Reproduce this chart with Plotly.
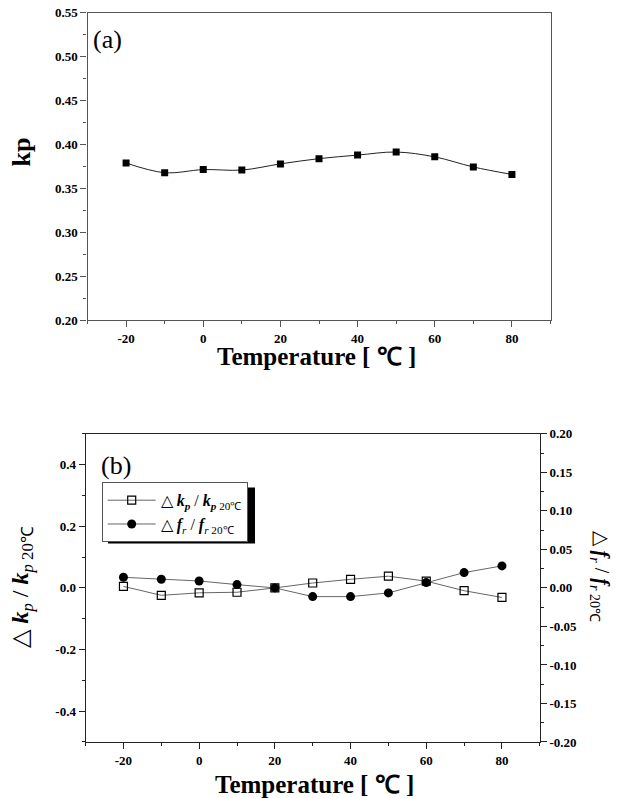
import plotly.graph_objects as go

# ---- data ----
temps = [-20, -10, 0, 10, 20, 30, 40, 50, 60, 70, 80]
kp = [0.379, 0.368, 0.3715, 0.371, 0.378, 0.384, 0.388, 0.3915, 0.386, 0.3745, 0.366]
dkp = [0.005, -0.024, -0.016, -0.014, 0.0, 0.016, 0.028, 0.038, 0.022, -0.009, -0.031]
dfr = [0.0138, 0.0112, 0.009, 0.0043, 0.0, -0.0113, -0.0113, -0.0065, 0.0069, 0.0199, 0.0286]

# tick values / labels (hyphen minus as in the reference)
x_ticks = [-20, 0, 20, 40, 60, 80]
x_labels = ["-20", "0", "20", "40", "60", "80"]
kp_ticks = [0.20, 0.25, 0.30, 0.35, 0.40, 0.45, 0.50, 0.55]
kp_labels = ["0.20", "0.25", "0.30", "0.35", "0.40", "0.45", "0.50", "0.55"]
left_ticks = [-0.4, -0.2, 0.0, 0.2, 0.4]
left_labels = ["-0.4", "-0.2", "0.0", "0.2", "0.4"]
right_ticks = [-0.20, -0.15, -0.10, -0.05, 0.00, 0.05, 0.10, 0.15, 0.20]
right_labels = ["-0.20", "-0.15", "-0.10", "-0.05", "0.00", "0.05", "0.10", "0.15", "0.20"]

W, H = 623, 798
SERIF = "Liberation Serif"
# observed vertical mapping of the capture: out = 0.981 * y + 7.5
VS, VO = 0.981, 7.5

def px_x(v):
    return v / W

def px_y(v):
    v = (v - VO) / VS
    return min(1.0, max(0.0, 1 - v / H))

fig = go.Figure()

fig.add_trace(go.Scatter(
    x=temps, y=kp, mode="lines+markers", showlegend=False,
    line=dict(color="#222", width=1, shape="spline", smoothing=1.0),
    marker=dict(symbol="square", size=7, color="black"),
    xaxis="x", yaxis="y"))

fig.add_trace(go.Scatter(
    x=temps, y=dkp, mode="lines+markers",
    name="△ <b><i>k</i></b><sub><b><i>p</i></b></sub> / <b><i>k</i></b><sub><b><i>p</i></b> 20℃</sub>",
    line=dict(color="#666", width=1),
    marker=dict(symbol="square-open", size=8, color="black", line=dict(width=1.2)),
    xaxis="x2", yaxis="y2"))

fig.add_trace(go.Scatter(
    x=temps, y=dfr, mode="lines+markers",
    name="△ <b><i>f</i></b><sub><i>r</i></sub> / <b><i>f</i></b><sub><i>r</i> 20℃</sub>",
    line=dict(color="#666", width=1),
    marker=dict(symbol="circle", size=9, color="black"),
    xaxis="x2", yaxis="y3"))

tickfont = dict(family=SERIF, size=13, color="black", weight="bold")
common = dict(showgrid=False, zeroline=False, showline=True, ticks="outside",
              tickfont=tickfont, linewidth=1.2, tickmode="array")

def ann(text, x, y, size, angle=0, weight="normal"):
    return dict(text=text, x=px_x(x), y=px_y(y), xref="paper", yref="paper",
                xanchor="center", yanchor="middle", textangle=angle, showarrow=False,
                font=dict(family=SERIF, size=size, color="black", weight=weight))

fig.update_layout(
    width=W, height=H,
    margin=dict(l=0, r=0, t=0, b=0),
    paper_bgcolor="white", plot_bgcolor="white",
    xaxis=dict(domain=[px_x(87.5), px_x(550.5)], range=[-30, 90],
               tickvals=x_ticks, ticktext=x_labels,
               mirror=True, linecolor="#555", ticklen=6, tickcolor="#555",
               minor=dict(dtick=10, tick0=0, ticks="outside", ticklen=3, tickcolor="#555"),
               anchor="y", **common),
    yaxis=dict(domain=[px_y(320.7), px_y(13.3)], range=[0.20, 0.55],
               tickvals=kp_ticks, ticktext=kp_labels,
               mirror=True, linecolor="#555", ticklen=6, tickcolor="#555",
               minor=dict(dtick=0.025, tick0=0.2, ticks="outside", ticklen=3, tickcolor="#555"),
               anchor="x", **common),
    xaxis2=dict(domain=[px_x(85.6), px_x(539.8)], range=[-30, 90],
                tickvals=x_ticks, ticktext=x_labels,
                mirror=True, linecolor="#222", ticklen=6, tickcolor="#222",
                minor=dict(dtick=10, tick0=0, ticks="outside", ticklen=3, tickcolor="#222"),
                anchor="y2", **common),
    yaxis2=dict(domain=[px_y(742.3), px_y(434.3)], range=[-0.5, 0.5],
                tickvals=left_ticks, ticktext=left_labels,
                mirror=True, linecolor="#222", ticklen=6, tickcolor="#222",
                minor=dict(dtick=0.1, tick0=0, ticks="outside", ticklen=3, tickcolor="#222"),
                anchor="x2", **common),
    yaxis3=dict(domain=[px_y(742.3), px_y(434.3)], range=[-0.2, 0.2],
                tickvals=right_ticks, ticktext=right_labels,
                overlaying="y2", side="right", linecolor="#222",
                ticklen=6, tickcolor="#222",
                minor=dict(dtick=0.025, tick0=0, ticks="outside", ticklen=3, tickcolor="#222"),
                anchor="x2", **common),
    legend=dict(x=px_x(101.7), y=px_y(482.7), xanchor="left", yanchor="top",
                bgcolor="white", bordercolor="#555", borderwidth=1,
                font=dict(family=SERIF, size=16, color="black"),
                tracegroupgap=2, itemwidth=48),
    shapes=[dict(type="rect", xref="paper", yref="paper",
                 x0=px_x(108), x1=px_x(255), y0=px_y(544), y1=px_y(488),
                 fillcolor="black", line=dict(width=0), layer="above")],
    annotations=[
        ann("(a)", 107, 40, 26),
        ann("(b)", 116, 466, 26),
        ann("kp", 22, 153, 26, angle=-90, weight="bold"),
        ann("Temperature [ ℃ ]", 316, 357, 25, weight="bold"),
        ann("Temperature [ ℃ ]", 314, 785, 25, weight="bold"),
        ann("△ <b><i>k</i></b><sub><i>p</i></sub> / <b><i>k</i></b><sub><i>p</i> 20℃</sub>",
            22, 588, 24, angle=-90),
        ann("△ <b><i>f</i></b><sub><i>r</i></sub> / <b><i>f</i></b><sub><i>r</i> 20℃</sub>",
            600, 576, 20, angle=90),
    ],
)

fig.write_html("out.html", config={"displayModeBar": False},
               post_script="document.body.style.margin='0';document.body.style.overflow='hidden';")
